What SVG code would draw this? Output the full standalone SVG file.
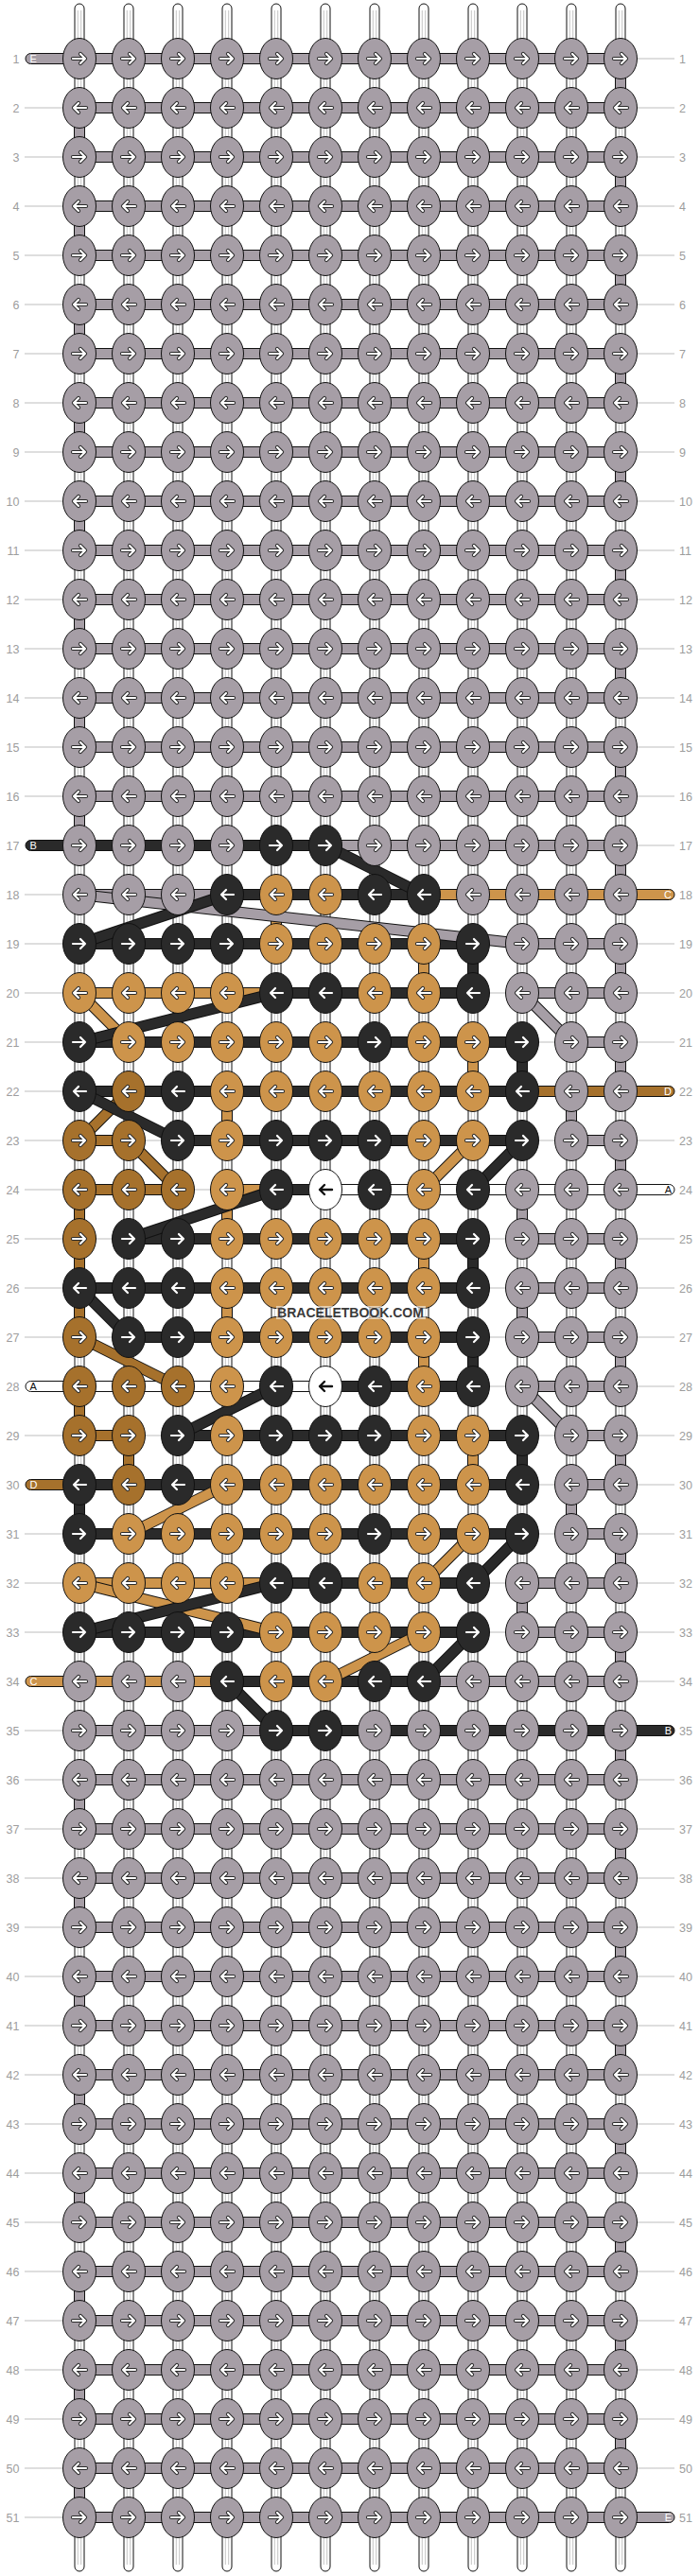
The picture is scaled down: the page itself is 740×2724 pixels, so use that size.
<svg xmlns="http://www.w3.org/2000/svg" width="740" height="2724" viewBox="0 0 740 2724">
<style>
.g{fill:#a69ea6}.k{fill:#2a2a2a}.o{fill:#cd944b}.d{fill:#a6712c}.w{fill:#fff}
.s{stroke:#111;stroke-width:1}
.t{stroke:#bdbdbd;stroke-width:1}
.nl,.nr{font-family:"Liberation Sans",Arial,sans-serif;font-size:12.5px;fill:#9d9d9d}
.nl{text-anchor:end}
.pt{font-family:"Liberation Sans",Arial,sans-serif;font-size:11px;fill:#fff}
.pe{text-anchor:end}
.dl{fill:none;stroke:#111;stroke-width:12}
.dk,.dg,.do,.dd{fill:none;stroke-width:10}
.dk{stroke:#2a2a2a}.dg{stroke:#a69ea6}.do{stroke:#cd944b}.dd{stroke:#a6712c}
</style>
<defs>
<g id="R"><ellipse rx="17.5" ry="21.5" stroke="#111" stroke-width="1"/><path d="M-7,0H6M1,-5L6,0L1,5" fill="none" stroke="#2b2b2b" stroke-width="4.2" stroke-linecap="round" stroke-linejoin="round"/><path d="M-7,0H6M1,-5L6,0L1,5" fill="none" stroke="#fff" stroke-width="2.2" stroke-linecap="round" stroke-linejoin="round"/></g>
<g id="L"><ellipse rx="17.5" ry="21.5" stroke="#111" stroke-width="1"/><path d="M7,0H-6M-1,-5L-6,0L-1,5" fill="none" stroke="#2b2b2b" stroke-width="4.2" stroke-linecap="round" stroke-linejoin="round"/><path d="M7,0H-6M-1,-5L-6,0L-1,5" fill="none" stroke="#fff" stroke-width="2.2" stroke-linecap="round" stroke-linejoin="round"/></g>
<g id="LW"><ellipse rx="17.5" ry="21.5" stroke="#111" stroke-width="1" fill="#fff"/><path d="M7,0H-6M-1,-5L-6,0L-1,5" fill="none" stroke="#111" stroke-width="2.4" stroke-linecap="round" stroke-linejoin="round"/></g>
<g id="nR"><use href="#R" x="84"/><use href="#R" x="136"/><use href="#R" x="188"/><use href="#R" x="240"/><use href="#R" x="292"/><use href="#R" x="344"/><use href="#R" x="396"/><use href="#R" x="448"/><use href="#R" x="500"/><use href="#R" x="552"/><use href="#R" x="604"/><use href="#R" x="656"/></g>
<g id="nL"><use href="#L" x="84"/><use href="#L" x="136"/><use href="#L" x="188"/><use href="#L" x="240"/><use href="#L" x="292"/><use href="#L" x="344"/><use href="#L" x="396"/><use href="#L" x="448"/><use href="#L" x="500"/><use href="#L" x="552"/><use href="#L" x="604"/><use href="#L" x="656"/></g>
<g id="wp"><rect x="-5" y="4" width="10" height="2715" rx="5" fill="#fff" stroke="#111" stroke-width="1"/><line x1="0" y1="11" x2="0" y2="2712" stroke="#c4c4c4" stroke-width="4.4"/><line x1="0" y1="11" x2="0" y2="2712" stroke="#fff" stroke-width="2.4"/></g>
<rect id="hg" class="s g" x="84" y="-5.5" width="572" height="11"/>
<line id="ll" class="t" x1="26" y1="0" x2="70" y2="0"/>
<line id="lr" class="t" x1="650" y1="0" x2="713" y2="0"/>
<g id="lb"><use href="#ll"/><use href="#lr"/></g>
</defs>
<rect width="740" height="2724" fill="#fff"/>
<g id="connectors">
<g id="warps"><use href="#wp" x="84"/><use href="#wp" x="136"/><use href="#wp" x="188"/><use href="#wp" x="240"/><use href="#wp" x="292"/><use href="#wp" x="344"/><use href="#wp" x="396"/><use href="#wp" x="448"/><use href="#wp" x="500"/><use href="#wp" x="552"/><use href="#wp" x="604"/><use href="#wp" x="656"/></g>
<g id="verticals">
<rect class="s g" x="650.5" y="62" width="11" height="52"/><rect class="s g" x="78.5" y="114" width="11" height="52"/><rect class="s g" x="650.5" y="166" width="11" height="52"/><rect class="s g" x="78.5" y="218" width="11" height="52"/><rect class="s g" x="650.5" y="270" width="11" height="52"/><rect class="s g" x="78.5" y="322" width="11" height="52"/><rect class="s g" x="650.5" y="374" width="11" height="52"/><rect class="s g" x="78.5" y="426" width="11" height="52"/><rect class="s g" x="650.5" y="478" width="11" height="52"/><rect class="s g" x="78.5" y="530" width="11" height="52"/><rect class="s g" x="650.5" y="582" width="11" height="52"/><rect class="s g" x="78.5" y="634" width="11" height="52"/><rect class="s g" x="650.5" y="686" width="11" height="52"/><rect class="s g" x="78.5" y="738" width="11" height="52"/><rect class="s g" x="650.5" y="790" width="11" height="52"/><rect class="s g" x="78.5" y="842" width="11" height="52"/>
<rect class="s g" x="650.5" y="894" width="11" height="52"/>
<rect class="s o" x="286.5" y="946" width="11" height="52"/>
<rect class="s o" x="442.5" y="998" width="11" height="52"/><rect class="s k" x="494.5" y="998" width="11" height="52"/><rect class="s g" x="650.5" y="998" width="11" height="52"/>
<rect class="s o" x="494.5" y="1102" width="11" height="52"/><rect class="s k" x="546.5" y="1102" width="11" height="52"/><rect class="s g" x="650.5" y="1102" width="11" height="52"/>
<rect class="s o" x="234.5" y="1154" width="11" height="52"/><rect class="s g" x="598.5" y="1154" width="11" height="52"/>
<rect class="s g" x="650.5" y="1206" width="11" height="52"/>
<rect class="s d" x="78.5" y="1258" width="11" height="52"/><rect class="s o" x="234.5" y="1258" width="11" height="52"/><rect class="s g" x="546.5" y="1258" width="11" height="52"/>
<rect class="s d" x="78.5" y="1310" width="11" height="52"/><rect class="s o" x="442.5" y="1310" width="11" height="52"/><rect class="s k" x="494.5" y="1310" width="11" height="52"/><rect class="s g" x="650.5" y="1310" width="11" height="52"/>
<rect class="s d" x="78.5" y="1362" width="11" height="52"/><rect class="s o" x="234.5" y="1362" width="11" height="52"/><rect class="s g" x="546.5" y="1362" width="11" height="52"/>
<rect class="s o" x="442.5" y="1414" width="11" height="52"/><rect class="s k" x="494.5" y="1414" width="11" height="52"/><rect class="s g" x="650.5" y="1414" width="11" height="52"/>
<rect class="s d" x="78.5" y="1466" width="11" height="52"/>
<rect class="s d" x="130.5" y="1518" width="11" height="52"/><rect class="s o" x="494.5" y="1518" width="11" height="52"/><rect class="s k" x="546.5" y="1518" width="11" height="52"/><rect class="s g" x="650.5" y="1518" width="11" height="52"/>
<rect class="s k" x="78.5" y="1570" width="11" height="52"/><rect class="s g" x="598.5" y="1570" width="11" height="52"/>
<rect class="s g" x="650.5" y="1622" width="11" height="52"/>
<rect class="s g" x="546.5" y="1674" width="11" height="52"/>
<rect class="s g" x="650.5" y="1726" width="11" height="52"/>
<rect class="s g" x="650.5" y="1830" width="11" height="52"/><rect class="s g" x="78.5" y="1882" width="11" height="52"/><rect class="s g" x="650.5" y="1934" width="11" height="52"/><rect class="s g" x="78.5" y="1986" width="11" height="52"/><rect class="s g" x="650.5" y="2038" width="11" height="52"/><rect class="s g" x="78.5" y="2090" width="11" height="52"/><rect class="s g" x="650.5" y="2142" width="11" height="52"/><rect class="s g" x="78.5" y="2194" width="11" height="52"/><rect class="s g" x="650.5" y="2246" width="11" height="52"/><rect class="s g" x="78.5" y="2298" width="11" height="52"/><rect class="s g" x="650.5" y="2350" width="11" height="52"/><rect class="s g" x="78.5" y="2402" width="11" height="52"/><rect class="s g" x="650.5" y="2454" width="11" height="52"/><rect class="s g" x="78.5" y="2506" width="11" height="52"/><rect class="s g" x="650.5" y="2558" width="11" height="52"/><rect class="s g" x="78.5" y="2610" width="11" height="52"/>
</g>
<g id="horizontals">
<use href="#hg" y="62"/><use href="#hg" y="114"/><use href="#hg" y="166"/><use href="#hg" y="218"/><use href="#hg" y="270"/><use href="#hg" y="322"/><use href="#hg" y="374"/><use href="#hg" y="426"/><use href="#hg" y="478"/><use href="#hg" y="530"/><use href="#hg" y="582"/><use href="#hg" y="634"/><use href="#hg" y="686"/><use href="#hg" y="738"/><use href="#hg" y="790"/><use href="#hg" y="842"/>
<g transform="translate(0,894)"><rect class="s k" x="84" y="-5.5" width="260" height="11"/><rect class="s g" x="344" y="-5.5" width="312" height="11"/></g>
<g transform="translate(0,946)"><rect class="s g" x="84" y="-5.5" width="156" height="11"/><rect class="s k" x="240" y="-5.5" width="208" height="11"/><rect class="s o" x="448" y="-5.5" width="208" height="11"/></g>
<g transform="translate(0,998)"><rect class="s k" x="84" y="-5.5" width="416" height="11"/><line class="t" x1="500" x2="552"/><rect class="s g" x="552" y="-5.5" width="104" height="11"/></g>
<g transform="translate(0,1050)"><rect class="s o" x="84" y="-5.5" width="208" height="11"/><rect class="s k" x="292" y="-5.5" width="208" height="11"/><line class="t" x1="500" x2="552"/><rect class="s g" x="552" y="-5.5" width="104" height="11"/></g>
<g transform="translate(0,1102)"><rect class="s k" x="84" y="-5.5" width="468" height="11"/><line class="t" x1="552" x2="604"/><rect class="s g" x="604" y="-5.5" width="52" height="11"/></g>
<g transform="translate(0,1154)"><rect class="s k" x="84" y="-5.5" width="468" height="11"/><rect class="s d" x="552" y="-5.5" width="104" height="11"/></g>
<g transform="translate(0,1206)"><rect class="s d" x="84" y="-5.5" width="52" height="11"/><line class="t" x1="136" x2="188"/><rect class="s k" x="188" y="-5.5" width="364" height="11"/><line class="t" x1="552" x2="604"/><rect class="s g" x="604" y="-5.5" width="52" height="11"/></g>
<g transform="translate(0,1258)"><rect class="s d" x="84" y="-5.5" width="104" height="11"/><line class="t" x1="188" x2="240"/><rect class="s o" x="240" y="-5.5" width="52" height="11"/><rect class="s k" x="292" y="-5.5" width="52" height="11"/><rect class="s w" x="344" y="-5.5" width="312" height="11"/></g>
<g transform="translate(0,1310)"><line class="t" x1="84" x2="136"/><rect class="s k" x="136" y="-5.5" width="364" height="11"/><line class="t" x1="500" x2="552"/><rect class="s g" x="552" y="-5.5" width="104" height="11"/></g>
<g transform="translate(0,1362)"><rect class="s k" x="84" y="-5.5" width="416" height="11"/><line class="t" x1="500" x2="552"/><rect class="s g" x="552" y="-5.5" width="104" height="11"/></g>
<g transform="translate(0,1414)"><line class="t" x1="84" x2="136"/><rect class="s k" x="136" y="-5.5" width="364" height="11"/><line class="t" x1="500" x2="552"/><rect class="s g" x="552" y="-5.5" width="104" height="11"/></g>
<g transform="translate(0,1466)"><rect class="s w" x="84" y="-5.5" width="260" height="11"/><rect class="s k" x="344" y="-5.5" width="156" height="11"/><line class="t" x1="500" x2="552"/><rect class="s g" x="552" y="-5.5" width="104" height="11"/></g>
<g transform="translate(0,1518)"><rect class="s d" x="84" y="-5.5" width="52" height="11"/><line class="t" x1="136" x2="188"/><rect class="s k" x="188" y="-5.5" width="364" height="11"/><line class="t" x1="552" x2="604"/><rect class="s g" x="604" y="-5.5" width="52" height="11"/></g>
<g transform="translate(0,1570)"><rect class="s k" x="84" y="-5.5" width="468" height="11"/><line class="t" x1="552" x2="604"/><rect class="s g" x="604" y="-5.5" width="52" height="11"/></g>
<g transform="translate(0,1622)"><rect class="s k" x="84" y="-5.5" width="468" height="11"/><line class="t" x1="552" x2="604"/><rect class="s g" x="604" y="-5.5" width="52" height="11"/></g>
<g transform="translate(0,1674)"><rect class="s o" x="84" y="-5.5" width="208" height="11"/><rect class="s k" x="292" y="-5.5" width="208" height="11"/><line class="t" x1="500" x2="552"/><rect class="s g" x="552" y="-5.5" width="104" height="11"/></g>
<g transform="translate(0,1726)"><rect class="s k" x="84" y="-5.5" width="416" height="11"/><line class="t" x1="500" x2="552"/><rect class="s g" x="552" y="-5.5" width="104" height="11"/></g>
<g transform="translate(0,1778)"><rect class="s o" x="84" y="-5.5" width="156" height="11"/><rect class="s k" x="240" y="-5.5" width="208" height="11"/><rect class="s g" x="448" y="-5.5" width="208" height="11"/></g>
<g transform="translate(0,1830)"><rect class="s g" x="84" y="-5.5" width="208" height="11"/><rect class="s k" x="292" y="-5.5" width="364" height="11"/></g>
<use href="#hg" y="1882"/><use href="#hg" y="1934"/><use href="#hg" y="1986"/><use href="#hg" y="2038"/><use href="#hg" y="2090"/><use href="#hg" y="2142"/><use href="#hg" y="2194"/><use href="#hg" y="2246"/><use href="#hg" y="2298"/><use href="#hg" y="2350"/><use href="#hg" y="2402"/><use href="#hg" y="2454"/><use href="#hg" y="2506"/><use href="#hg" y="2558"/><use href="#hg" y="2610"/><use href="#hg" y="2662"/>
</g>
<g id="ends">
<use href="#lr" y="62"/><use href="#lb" y="114"/><use href="#lb" y="166"/><use href="#lb" y="218"/><use href="#lb" y="270"/><use href="#lb" y="322"/><use href="#lb" y="374"/><use href="#lb" y="426"/><use href="#lb" y="478"/><use href="#lb" y="530"/><use href="#lb" y="582"/><use href="#lb" y="634"/><use href="#lb" y="686"/><use href="#lb" y="738"/><use href="#lb" y="790"/><use href="#lb" y="842"/>
<use href="#lr" y="894"/><use href="#ll" y="946"/><use href="#lb" y="998"/><use href="#lb" y="1050"/><use href="#lb" y="1102"/><use href="#ll" y="1154"/><use href="#lb" y="1206"/><use href="#ll" y="1258"/><use href="#lb" y="1310"/><use href="#lb" y="1362"/><use href="#lb" y="1414"/><use href="#lr" y="1466"/><use href="#lb" y="1518"/><use href="#lr" y="1570"/><use href="#lb" y="1622"/><use href="#lb" y="1674"/><use href="#lb" y="1726"/><use href="#lr" y="1778"/><use href="#ll" y="1830"/>
<use href="#lb" y="1882"/><use href="#lb" y="1934"/><use href="#lb" y="1986"/><use href="#lb" y="2038"/><use href="#lb" y="2090"/><use href="#lb" y="2142"/><use href="#lb" y="2194"/><use href="#lb" y="2246"/><use href="#lb" y="2298"/><use href="#lb" y="2350"/><use href="#lb" y="2402"/><use href="#lb" y="2454"/><use href="#lb" y="2506"/><use href="#lb" y="2558"/><use href="#lb" y="2610"/><use href="#ll" y="2662"/>
<rect class="s g" x="27" y="56.5" width="60" height="11" rx="5.5"/>
<rect class="s k" x="27" y="888.5" width="60" height="11" rx="5.5"/>
<rect class="s o" x="640" y="940.5" width="73" height="11" rx="5.5"/>
<rect class="s d" x="640" y="1148.5" width="73" height="11" rx="5.5"/>
<rect class="s w" x="640" y="1252.5" width="73" height="11" rx="5.5"/>
<rect class="s w" x="27" y="1460.5" width="60" height="11" rx="5.5"/>
<rect class="s d" x="27" y="1564.5" width="60" height="11" rx="5.5"/>
<rect class="s o" x="27" y="1772.5" width="60" height="11" rx="5.5"/>
<rect class="s k" x="640" y="1824.5" width="73" height="11" rx="5.5"/>
<rect class="s g" x="640" y="2656.5" width="73" height="11" rx="5.5"/>
</g>
<g id="diagonals">
<path class="dl" d="M84,946L552,998"/><path class="dg" d="M84,946L552,998"/>
<path class="dl" d="M344,894L448,946"/><path class="dk" d="M344,894L448,946"/>
<path class="dl" d="M240,946L84,998"/><path class="dk" d="M240,946L84,998"/>
<path class="dl" d="M84,1050L136,1102"/><path class="do" d="M84,1050L136,1102"/>
<path class="dl" d="M292,1050L84,1102"/><path class="dk" d="M292,1050L84,1102"/>
<path class="dl" d="M552,1050L604,1102"/><path class="dg" d="M552,1050L604,1102"/>
<path class="dl" d="M136,1154L84,1206"/><path class="dd" d="M136,1154L84,1206"/>
<path class="dl" d="M84,1154L188,1206"/><path class="dk" d="M84,1154L188,1206"/>
<path class="dl" d="M136,1206L188,1258"/><path class="dd" d="M136,1206L188,1258"/>
<path class="dl" d="M500,1206L448,1258"/><path class="do" d="M500,1206L448,1258"/>
<path class="dl" d="M552,1206L500,1258"/><path class="dk" d="M552,1206L500,1258"/>
<path class="dl" d="M292,1258L136,1310"/><path class="dk" d="M292,1258L136,1310"/>
<path class="dl" d="M84,1362L136,1414"/><path class="dk" d="M84,1362L136,1414"/>
<path class="dl" d="M84,1414L188,1466"/><path class="dd" d="M84,1414L188,1466"/>
<path class="dl" d="M292,1466L188,1518"/><path class="dk" d="M292,1466L188,1518"/>
<path class="dl" d="M552,1466L604,1518"/><path class="dg" d="M552,1466L604,1518"/>
<path class="dl" d="M240,1570L136,1622"/><path class="do" d="M240,1570L136,1622"/>
<path class="dl" d="M500,1622L448,1674"/><path class="do" d="M500,1622L448,1674"/>
<path class="dl" d="M552,1622L500,1674"/><path class="dk" d="M552,1622L500,1674"/>
<path class="dl" d="M84,1674L292,1726"/><path class="do" d="M84,1674L292,1726"/>
<path class="dl" d="M292,1674L84,1726"/><path class="dk" d="M292,1674L84,1726"/>
<path class="dl" d="M448,1726L344,1778"/><path class="do" d="M448,1726L344,1778"/>
<path class="dl" d="M500,1726L448,1778"/><path class="dk" d="M500,1726L448,1778"/>
<path class="dl" d="M240,1778L292,1830"/><path class="dk" d="M240,1778L292,1830"/>
</g>
</g>
<g id="knots">
<use id="row1" href="#nR" y="62" class="g"/><use id="row2" href="#nL" y="114" class="g"/><use id="row3" href="#nR" y="166" class="g"/><use id="row4" href="#nL" y="218" class="g"/><use id="row5" href="#nR" y="270" class="g"/><use id="row6" href="#nL" y="322" class="g"/><use id="row7" href="#nR" y="374" class="g"/><use id="row8" href="#nL" y="426" class="g"/><use id="row9" href="#nR" y="478" class="g"/><use id="row10" href="#nL" y="530" class="g"/><use id="row11" href="#nR" y="582" class="g"/><use id="row12" href="#nL" y="634" class="g"/><use id="row13" href="#nR" y="686" class="g"/><use id="row14" href="#nL" y="738" class="g"/><use id="row15" href="#nR" y="790" class="g"/><use id="row16" href="#nL" y="842" class="g"/>
<g id="row17" transform="translate(0,894)"><use id="k17-1" href="#R" x="84" class="g"/><use id="k17-2" href="#R" x="136" class="g"/><use id="k17-3" href="#R" x="188" class="g"/><use id="k17-4" href="#R" x="240" class="g"/><use id="k17-5" href="#R" x="292" class="k"/><use id="k17-6" href="#R" x="344" class="k"/><use id="k17-7" href="#R" x="396" class="g"/><use id="k17-8" href="#R" x="448" class="g"/><use id="k17-9" href="#R" x="500" class="g"/><use id="k17-10" href="#R" x="552" class="g"/><use id="k17-11" href="#R" x="604" class="g"/><use id="k17-12" href="#R" x="656" class="g"/></g>
<g id="row18" transform="translate(0,946)"><use id="k18-1" href="#L" x="84" class="g"/><use id="k18-2" href="#L" x="136" class="g"/><use id="k18-3" href="#L" x="188" class="g"/><use id="k18-4" href="#L" x="240" class="k"/><use id="k18-5" href="#L" x="292" class="o"/><use id="k18-6" href="#L" x="344" class="o"/><use id="k18-7" href="#L" x="396" class="k"/><use id="k18-8" href="#L" x="448" class="k"/><use id="k18-9" href="#L" x="500" class="g"/><use id="k18-10" href="#L" x="552" class="g"/><use id="k18-11" href="#L" x="604" class="g"/><use id="k18-12" href="#L" x="656" class="g"/></g>
<g id="row19" transform="translate(0,998)"><use id="k19-1" href="#R" x="84" class="k"/><use id="k19-2" href="#R" x="136" class="k"/><use id="k19-3" href="#R" x="188" class="k"/><use id="k19-4" href="#R" x="240" class="k"/><use id="k19-5" href="#R" x="292" class="o"/><use id="k19-6" href="#R" x="344" class="o"/><use id="k19-7" href="#R" x="396" class="o"/><use id="k19-8" href="#R" x="448" class="o"/><use id="k19-9" href="#R" x="500" class="k"/><use id="k19-10" href="#R" x="552" class="g"/><use id="k19-11" href="#R" x="604" class="g"/><use id="k19-12" href="#R" x="656" class="g"/></g>
<g id="row20" transform="translate(0,1050)"><use id="k20-1" href="#L" x="84" class="o"/><use id="k20-2" href="#L" x="136" class="o"/><use id="k20-3" href="#L" x="188" class="o"/><use id="k20-4" href="#L" x="240" class="o"/><use id="k20-5" href="#L" x="292" class="k"/><use id="k20-6" href="#L" x="344" class="k"/><use id="k20-7" href="#L" x="396" class="o"/><use id="k20-8" href="#L" x="448" class="o"/><use id="k20-9" href="#L" x="500" class="k"/><use id="k20-10" href="#L" x="552" class="g"/><use id="k20-11" href="#L" x="604" class="g"/><use id="k20-12" href="#L" x="656" class="g"/></g>
<g id="row21" transform="translate(0,1102)"><use id="k21-1" href="#R" x="84" class="k"/><use id="k21-2" href="#R" x="136" class="o"/><use id="k21-3" href="#R" x="188" class="o"/><use id="k21-4" href="#R" x="240" class="o"/><use id="k21-5" href="#R" x="292" class="o"/><use id="k21-6" href="#R" x="344" class="o"/><use id="k21-7" href="#R" x="396" class="k"/><use id="k21-8" href="#R" x="448" class="o"/><use id="k21-9" href="#R" x="500" class="o"/><use id="k21-10" href="#R" x="552" class="k"/><use id="k21-11" href="#R" x="604" class="g"/><use id="k21-12" href="#R" x="656" class="g"/></g>
<g id="row22" transform="translate(0,1154)"><use id="k22-1" href="#L" x="84" class="k"/><use id="k22-2" href="#L" x="136" class="d"/><use id="k22-3" href="#L" x="188" class="k"/><use id="k22-4" href="#L" x="240" class="o"/><use id="k22-5" href="#L" x="292" class="o"/><use id="k22-6" href="#L" x="344" class="o"/><use id="k22-7" href="#L" x="396" class="o"/><use id="k22-8" href="#L" x="448" class="o"/><use id="k22-9" href="#L" x="500" class="o"/><use id="k22-10" href="#L" x="552" class="k"/><use id="k22-11" href="#L" x="604" class="g"/><use id="k22-12" href="#L" x="656" class="g"/></g>
<g id="row23" transform="translate(0,1206)"><use id="k23-1" href="#R" x="84" class="d"/><use id="k23-2" href="#R" x="136" class="d"/><use id="k23-3" href="#R" x="188" class="k"/><use id="k23-4" href="#R" x="240" class="o"/><use id="k23-5" href="#R" x="292" class="k"/><use id="k23-6" href="#R" x="344" class="k"/><use id="k23-7" href="#R" x="396" class="k"/><use id="k23-8" href="#R" x="448" class="o"/><use id="k23-9" href="#R" x="500" class="o"/><use id="k23-10" href="#R" x="552" class="k"/><use id="k23-11" href="#R" x="604" class="g"/><use id="k23-12" href="#R" x="656" class="g"/></g>
<g id="row24" transform="translate(0,1258)"><use id="k24-1" href="#L" x="84" class="d"/><use id="k24-2" href="#L" x="136" class="d"/><use id="k24-3" href="#L" x="188" class="d"/><use id="k24-4" href="#L" x="240" class="o"/><use id="k24-5" href="#L" x="292" class="k"/><use id="k24-6" href="#LW" x="344"/><use id="k24-7" href="#L" x="396" class="k"/><use id="k24-8" href="#L" x="448" class="o"/><use id="k24-9" href="#L" x="500" class="k"/><use id="k24-10" href="#L" x="552" class="g"/><use id="k24-11" href="#L" x="604" class="g"/><use id="k24-12" href="#L" x="656" class="g"/></g>
<g id="row25" transform="translate(0,1310)"><use id="k25-1" href="#R" x="84" class="d"/><use id="k25-2" href="#R" x="136" class="k"/><use id="k25-3" href="#R" x="188" class="k"/><use id="k25-4" href="#R" x="240" class="o"/><use id="k25-5" href="#R" x="292" class="o"/><use id="k25-6" href="#R" x="344" class="o"/><use id="k25-7" href="#R" x="396" class="o"/><use id="k25-8" href="#R" x="448" class="o"/><use id="k25-9" href="#R" x="500" class="k"/><use id="k25-10" href="#R" x="552" class="g"/><use id="k25-11" href="#R" x="604" class="g"/><use id="k25-12" href="#R" x="656" class="g"/></g>
<g id="row26" transform="translate(0,1362)"><use id="k26-1" href="#L" x="84" class="k"/><use id="k26-2" href="#L" x="136" class="k"/><use id="k26-3" href="#L" x="188" class="k"/><use id="k26-4" href="#L" x="240" class="o"/><use id="k26-5" href="#L" x="292" class="o"/><use id="k26-6" href="#L" x="344" class="o"/><use id="k26-7" href="#L" x="396" class="o"/><use id="k26-8" href="#L" x="448" class="o"/><use id="k26-9" href="#L" x="500" class="k"/><use id="k26-10" href="#L" x="552" class="g"/><use id="k26-11" href="#L" x="604" class="g"/><use id="k26-12" href="#L" x="656" class="g"/></g>
<g id="row27" transform="translate(0,1414)"><use id="k27-1" href="#R" x="84" class="d"/><use id="k27-2" href="#R" x="136" class="k"/><use id="k27-3" href="#R" x="188" class="k"/><use id="k27-4" href="#R" x="240" class="o"/><use id="k27-5" href="#R" x="292" class="o"/><use id="k27-6" href="#R" x="344" class="o"/><use id="k27-7" href="#R" x="396" class="o"/><use id="k27-8" href="#R" x="448" class="o"/><use id="k27-9" href="#R" x="500" class="k"/><use id="k27-10" href="#R" x="552" class="g"/><use id="k27-11" href="#R" x="604" class="g"/><use id="k27-12" href="#R" x="656" class="g"/></g>
<g id="row28" transform="translate(0,1466)"><use id="k28-1" href="#L" x="84" class="d"/><use id="k28-2" href="#L" x="136" class="d"/><use id="k28-3" href="#L" x="188" class="d"/><use id="k28-4" href="#L" x="240" class="o"/><use id="k28-5" href="#L" x="292" class="k"/><use id="k28-6" href="#LW" x="344"/><use id="k28-7" href="#L" x="396" class="k"/><use id="k28-8" href="#L" x="448" class="o"/><use id="k28-9" href="#L" x="500" class="k"/><use id="k28-10" href="#L" x="552" class="g"/><use id="k28-11" href="#L" x="604" class="g"/><use id="k28-12" href="#L" x="656" class="g"/></g>
<g id="row29" transform="translate(0,1518)"><use id="k29-1" href="#R" x="84" class="d"/><use id="k29-2" href="#R" x="136" class="d"/><use id="k29-3" href="#R" x="188" class="k"/><use id="k29-4" href="#R" x="240" class="o"/><use id="k29-5" href="#R" x="292" class="k"/><use id="k29-6" href="#R" x="344" class="k"/><use id="k29-7" href="#R" x="396" class="k"/><use id="k29-8" href="#R" x="448" class="o"/><use id="k29-9" href="#R" x="500" class="o"/><use id="k29-10" href="#R" x="552" class="k"/><use id="k29-11" href="#R" x="604" class="g"/><use id="k29-12" href="#R" x="656" class="g"/></g>
<g id="row30" transform="translate(0,1570)"><use id="k30-1" href="#L" x="84" class="k"/><use id="k30-2" href="#L" x="136" class="d"/><use id="k30-3" href="#L" x="188" class="k"/><use id="k30-4" href="#L" x="240" class="o"/><use id="k30-5" href="#L" x="292" class="o"/><use id="k30-6" href="#L" x="344" class="o"/><use id="k30-7" href="#L" x="396" class="o"/><use id="k30-8" href="#L" x="448" class="o"/><use id="k30-9" href="#L" x="500" class="o"/><use id="k30-10" href="#L" x="552" class="k"/><use id="k30-11" href="#L" x="604" class="g"/><use id="k30-12" href="#L" x="656" class="g"/></g>
<g id="row31" transform="translate(0,1622)"><use id="k31-1" href="#R" x="84" class="k"/><use id="k31-2" href="#R" x="136" class="o"/><use id="k31-3" href="#R" x="188" class="o"/><use id="k31-4" href="#R" x="240" class="o"/><use id="k31-5" href="#R" x="292" class="o"/><use id="k31-6" href="#R" x="344" class="o"/><use id="k31-7" href="#R" x="396" class="k"/><use id="k31-8" href="#R" x="448" class="o"/><use id="k31-9" href="#R" x="500" class="o"/><use id="k31-10" href="#R" x="552" class="k"/><use id="k31-11" href="#R" x="604" class="g"/><use id="k31-12" href="#R" x="656" class="g"/></g>
<g id="row32" transform="translate(0,1674)"><use id="k32-1" href="#L" x="84" class="o"/><use id="k32-2" href="#L" x="136" class="o"/><use id="k32-3" href="#L" x="188" class="o"/><use id="k32-4" href="#L" x="240" class="o"/><use id="k32-5" href="#L" x="292" class="k"/><use id="k32-6" href="#L" x="344" class="k"/><use id="k32-7" href="#L" x="396" class="o"/><use id="k32-8" href="#L" x="448" class="o"/><use id="k32-9" href="#L" x="500" class="k"/><use id="k32-10" href="#L" x="552" class="g"/><use id="k32-11" href="#L" x="604" class="g"/><use id="k32-12" href="#L" x="656" class="g"/></g>
<g id="row33" transform="translate(0,1726)"><use id="k33-1" href="#R" x="84" class="k"/><use id="k33-2" href="#R" x="136" class="k"/><use id="k33-3" href="#R" x="188" class="k"/><use id="k33-4" href="#R" x="240" class="k"/><use id="k33-5" href="#R" x="292" class="o"/><use id="k33-6" href="#R" x="344" class="o"/><use id="k33-7" href="#R" x="396" class="o"/><use id="k33-8" href="#R" x="448" class="o"/><use id="k33-9" href="#R" x="500" class="k"/><use id="k33-10" href="#R" x="552" class="g"/><use id="k33-11" href="#R" x="604" class="g"/><use id="k33-12" href="#R" x="656" class="g"/></g>
<g id="row34" transform="translate(0,1778)"><use id="k34-1" href="#L" x="84" class="g"/><use id="k34-2" href="#L" x="136" class="g"/><use id="k34-3" href="#L" x="188" class="g"/><use id="k34-4" href="#L" x="240" class="k"/><use id="k34-5" href="#L" x="292" class="o"/><use id="k34-6" href="#L" x="344" class="o"/><use id="k34-7" href="#L" x="396" class="k"/><use id="k34-8" href="#L" x="448" class="k"/><use id="k34-9" href="#L" x="500" class="g"/><use id="k34-10" href="#L" x="552" class="g"/><use id="k34-11" href="#L" x="604" class="g"/><use id="k34-12" href="#L" x="656" class="g"/></g>
<g id="row35" transform="translate(0,1830)"><use id="k35-1" href="#R" x="84" class="g"/><use id="k35-2" href="#R" x="136" class="g"/><use id="k35-3" href="#R" x="188" class="g"/><use id="k35-4" href="#R" x="240" class="g"/><use id="k35-5" href="#R" x="292" class="k"/><use id="k35-6" href="#R" x="344" class="k"/><use id="k35-7" href="#R" x="396" class="g"/><use id="k35-8" href="#R" x="448" class="g"/><use id="k35-9" href="#R" x="500" class="g"/><use id="k35-10" href="#R" x="552" class="g"/><use id="k35-11" href="#R" x="604" class="g"/><use id="k35-12" href="#R" x="656" class="g"/></g>
<use id="row36" href="#nL" y="1882" class="g"/><use id="row37" href="#nR" y="1934" class="g"/><use id="row38" href="#nL" y="1986" class="g"/><use id="row39" href="#nR" y="2038" class="g"/><use id="row40" href="#nL" y="2090" class="g"/><use id="row41" href="#nR" y="2142" class="g"/><use id="row42" href="#nL" y="2194" class="g"/><use id="row43" href="#nR" y="2246" class="g"/><use id="row44" href="#nL" y="2298" class="g"/><use id="row45" href="#nR" y="2350" class="g"/><use id="row46" href="#nL" y="2402" class="g"/><use id="row47" href="#nR" y="2454" class="g"/><use id="row48" href="#nL" y="2506" class="g"/><use id="row49" href="#nR" y="2558" class="g"/><use id="row50" href="#nL" y="2610" class="g"/><use id="row51" href="#nR" y="2662" class="g"/>
</g>
<g id="thread-letters">
<text class="pt" x="31.5" y="66">E</text>
<text class="pt" x="31.5" y="898">B</text>
<text class="pt pe" x="710" y="950">C</text>
<text class="pt pe" x="710" y="1158">D</text>
<text class="pt pe" x="710" y="1262" style="fill:#111">A</text>
<text class="pt" x="31.5" y="1470" style="fill:#111">A</text>
<text class="pt" x="31.5" y="1574">D</text>
<text class="pt" x="31.5" y="1782">C</text>
<text class="pt pe" x="710" y="1834">B</text>
<text class="pt pe" x="710" y="2666">E</text>
</g>
<g id="row-numbers">
<text class="nl" x="20.5" y="66.5">1</text><text class="nr" x="718" y="66.5">1</text>
<text class="nl" x="20.5" y="118.5">2</text><text class="nr" x="718" y="118.5">2</text>
<text class="nl" x="20.5" y="170.5">3</text><text class="nr" x="718" y="170.5">3</text>
<text class="nl" x="20.5" y="222.5">4</text><text class="nr" x="718" y="222.5">4</text>
<text class="nl" x="20.5" y="274.5">5</text><text class="nr" x="718" y="274.5">5</text>
<text class="nl" x="20.5" y="326.5">6</text><text class="nr" x="718" y="326.5">6</text>
<text class="nl" x="20.5" y="378.5">7</text><text class="nr" x="718" y="378.5">7</text>
<text class="nl" x="20.5" y="430.5">8</text><text class="nr" x="718" y="430.5">8</text>
<text class="nl" x="20.5" y="482.5">9</text><text class="nr" x="718" y="482.5">9</text>
<text class="nl" x="20.5" y="534.5">10</text><text class="nr" x="718" y="534.5">10</text>
<text class="nl" x="20.5" y="586.5">11</text><text class="nr" x="718" y="586.5">11</text>
<text class="nl" x="20.5" y="638.5">12</text><text class="nr" x="718" y="638.5">12</text>
<text class="nl" x="20.5" y="690.5">13</text><text class="nr" x="718" y="690.5">13</text>
<text class="nl" x="20.5" y="742.5">14</text><text class="nr" x="718" y="742.5">14</text>
<text class="nl" x="20.5" y="794.5">15</text><text class="nr" x="718" y="794.5">15</text>
<text class="nl" x="20.5" y="846.5">16</text><text class="nr" x="718" y="846.5">16</text>
<text class="nl" x="20.5" y="898.5">17</text><text class="nr" x="718" y="898.5">17</text>
<text class="nl" x="20.5" y="950.5">18</text><text class="nr" x="718" y="950.5">18</text>
<text class="nl" x="20.5" y="1002.5">19</text><text class="nr" x="718" y="1002.5">19</text>
<text class="nl" x="20.5" y="1054.5">20</text><text class="nr" x="718" y="1054.5">20</text>
<text class="nl" x="20.5" y="1106.5">21</text><text class="nr" x="718" y="1106.5">21</text>
<text class="nl" x="20.5" y="1158.5">22</text><text class="nr" x="718" y="1158.5">22</text>
<text class="nl" x="20.5" y="1210.5">23</text><text class="nr" x="718" y="1210.5">23</text>
<text class="nl" x="20.5" y="1262.5">24</text><text class="nr" x="718" y="1262.5">24</text>
<text class="nl" x="20.5" y="1314.5">25</text><text class="nr" x="718" y="1314.5">25</text>
<text class="nl" x="20.5" y="1366.5">26</text><text class="nr" x="718" y="1366.5">26</text>
<text class="nl" x="20.5" y="1418.5">27</text><text class="nr" x="718" y="1418.5">27</text>
<text class="nl" x="20.5" y="1470.5">28</text><text class="nr" x="718" y="1470.5">28</text>
<text class="nl" x="20.5" y="1522.5">29</text><text class="nr" x="718" y="1522.5">29</text>
<text class="nl" x="20.5" y="1574.5">30</text><text class="nr" x="718" y="1574.5">30</text>
<text class="nl" x="20.5" y="1626.5">31</text><text class="nr" x="718" y="1626.5">31</text>
<text class="nl" x="20.5" y="1678.5">32</text><text class="nr" x="718" y="1678.5">32</text>
<text class="nl" x="20.5" y="1730.5">33</text><text class="nr" x="718" y="1730.5">33</text>
<text class="nl" x="20.5" y="1782.5">34</text><text class="nr" x="718" y="1782.5">34</text>
<text class="nl" x="20.5" y="1834.5">35</text><text class="nr" x="718" y="1834.5">35</text>
<text class="nl" x="20.5" y="1886.5">36</text><text class="nr" x="718" y="1886.5">36</text>
<text class="nl" x="20.5" y="1938.5">37</text><text class="nr" x="718" y="1938.5">37</text>
<text class="nl" x="20.5" y="1990.5">38</text><text class="nr" x="718" y="1990.5">38</text>
<text class="nl" x="20.5" y="2042.5">39</text><text class="nr" x="718" y="2042.5">39</text>
<text class="nl" x="20.5" y="2094.5">40</text><text class="nr" x="718" y="2094.5">40</text>
<text class="nl" x="20.5" y="2146.5">41</text><text class="nr" x="718" y="2146.5">41</text>
<text class="nl" x="20.5" y="2198.5">42</text><text class="nr" x="718" y="2198.5">42</text>
<text class="nl" x="20.5" y="2250.5">43</text><text class="nr" x="718" y="2250.5">43</text>
<text class="nl" x="20.5" y="2302.5">44</text><text class="nr" x="718" y="2302.5">44</text>
<text class="nl" x="20.5" y="2354.5">45</text><text class="nr" x="718" y="2354.5">45</text>
<text class="nl" x="20.5" y="2406.5">46</text><text class="nr" x="718" y="2406.5">46</text>
<text class="nl" x="20.5" y="2458.5">47</text><text class="nr" x="718" y="2458.5">47</text>
<text class="nl" x="20.5" y="2510.5">48</text><text class="nr" x="718" y="2510.5">48</text>
<text class="nl" x="20.5" y="2562.5">49</text><text class="nr" x="718" y="2562.5">49</text>
<text class="nl" x="20.5" y="2614.5">50</text><text class="nr" x="718" y="2614.5">50</text>
<text class="nl" x="20.5" y="2666.5">51</text><text class="nr" x="718" y="2666.5">51</text>
</g>
<g id="watermark"><rect x="292" y="1381" width="158" height="14" fill="#fff" fill-opacity="0.55"/><text x="370.5" y="1393.3" text-anchor="middle" font-family="'Liberation Sans',Arial,sans-serif" font-weight="bold" font-size="14" fill="#3a3a3a">BRACELETBOOK.COM</text></g>
</svg>
